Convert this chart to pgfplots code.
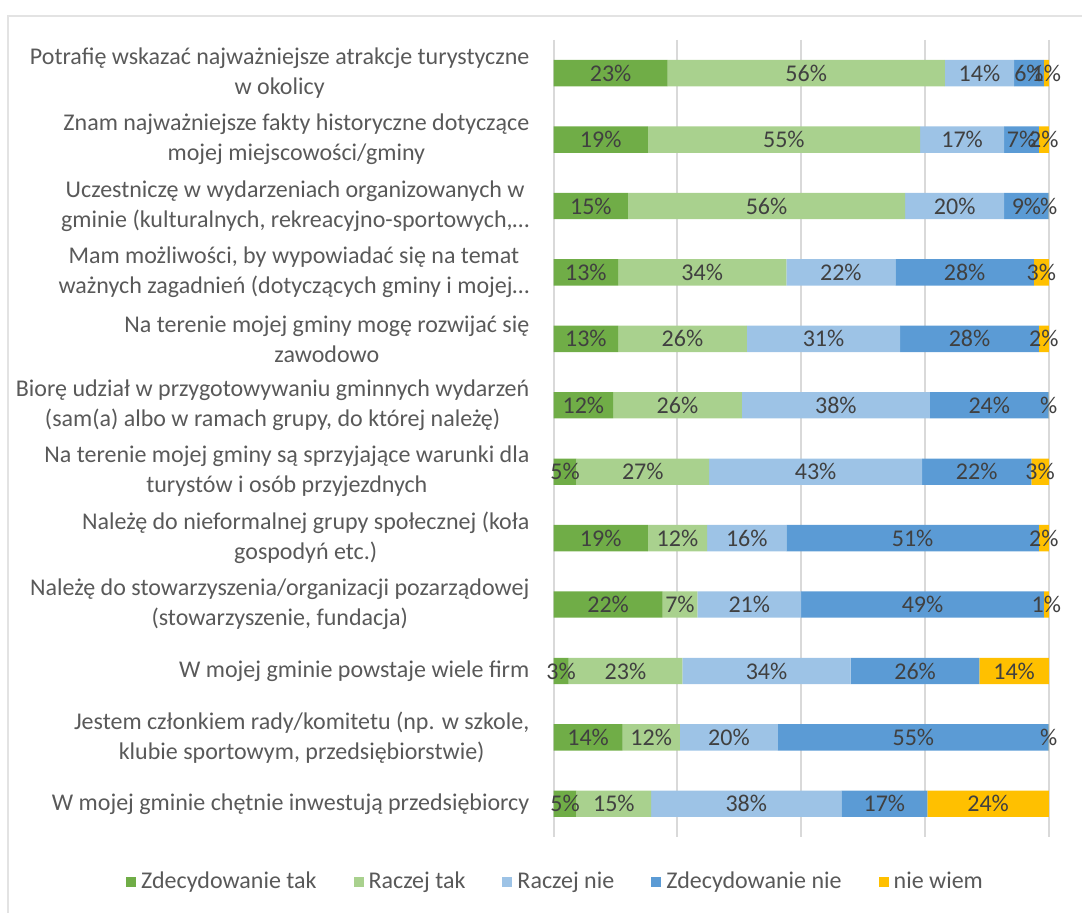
\documentclass[border=0pt]{standalone}
\usepackage{fontspec}
\setmainfont{Carlito}
\usepackage{pgfplots}
\pgfplotsset{compat=1.18}
\definecolor{cA}{HTML}{70AD47}
\definecolor{cB}{HTML}{A9D18E}
\definecolor{cC}{HTML}{9DC3E6}
\definecolor{cD}{HTML}{5B9BD5}
\definecolor{cE}{HTML}{FFC000}
\definecolor{gridc}{HTML}{D9D9D9}
\definecolor{framec}{HTML}{E3E3E3}
\definecolor{txt}{HTML}{595959}
\definecolor{lab}{HTML}{404040}
\begin{document}
\begin{tikzpicture}
\path[use as bounding box] (0,0) rectangle (541pt,456.5pt);
\draw[framec, line width=1pt] (4pt,-2pt) -- (4pt,448.5pt) -- (543pt,448.5pt);
\begin{axis}[
  at={(276.85pt,38pt)}, anchor=south west,
  scale only axis, width=247.65pt, height=398.5pt,
  xbar stacked, bar width=13.2pt, clip=false,
  xmin=0, xmax=100.05, ymin=-0.5, ymax=11.5, y dir=reverse,
  xtick={0,25,50,75,100}, xticklabels={},
  xmajorgrids, grid style={draw=gridc, line width=1pt},
  axis line style={draw=none}, major tick style={draw=none},
  ytick={0,...,11},
  yticklabels={
    {Potrafię wskazać najważniejsze atrakcje turystyczne\\w okolicy},
    {Znam najważniejsze fakty historyczne dotyczące\\mojej miejscowości/gminy},
    {Uczestniczę w wydarzeniach organizowanych w\\gminie (kulturalnych, rekreacyjno-sportowych,…},
    {Mam możliwości, by wypowiadać się na temat\\ważnych zagadnień (dotyczących gminy i mojej…},
    {Na terenie mojej gminy mogę rozwijać się\\zawodowo},
    {Biorę udział w przygotowywaniu gminnych wydarzeń\\(sam(a) albo w ramach grupy, do której należę)},
    {Na terenie mojej gminy są sprzyjające warunki dla\\turystów i osób przyjezdnych},
    {Należę do nieformalnej grupy społecznej (koła\\gospodyń etc.)},
    {Należę do stowarzyszenia/organizacji pozarządowej\\(stowarzyszenie, fundacja)},
    {W mojej gminie powstaje wiele firm},
    {Jestem członkiem rady/komitetu (np. w szkole,\\klubie sportowym, przedsiębiorstwie)},
    {W mojej gminie chętnie inwestują przedsiębiorcy}
  },
  yticklabel style={align=center, anchor=east, inner sep=0pt, xshift=-12pt,
    font=\fontsize{12}{15}\selectfont, text=txt},
  nodes near coords, point meta=explicit symbolic,
  every node near coord/.append style={anchor=center, inner sep=0pt,
    font=\fontsize{12}{15}\selectfont, text=lab},
  legend style={at={(0.0067,-0.0565)}, anchor=center, draw=none,
    legend columns=-1, font=\fontsize{12}{15}\selectfont, text=txt,
    /tikz/every even column/.append style={column sep=16pt},
    nodes={inner sep=2.5pt}},
  legend image code/.code={\fill[#1] (0pt,-2.5pt) rectangle (5pt,2.5pt);},
]
\addplot[fill=cA, draw=none] coordinates {
 (23,0) [23\%] (19,1) [19\%] (15,2) [15\%] (13,3) [13\%] (13,4) [13\%] (12,5) [12\%]
 (4.6,6) [5\%] (19,7) [19\%] (22,8) [22\%] (3,9) [3\%] (13.9,10) [14\%] (4.6,11) [5\%]};
\addplot[fill=cB, draw=none] coordinates {
 (56,0) [56\%] (55,1) [55\%] (56,2) [56\%] (34,3) [34\%] (26,4) [26\%] (26,5) [26\%]
 (26.8,6) [27\%] (12,7) [12\%] (7,8) [7\%] (23,9) [23\%] (11.6,10) [12\%] (15.1,11) [15\%]};
\addplot[fill=cC, draw=none] coordinates {
 (14,0) [14\%] (17,1) [17\%] (20,2) [20\%] (22,3) [22\%] (31,4) [31\%] (38,5) [38\%]
 (43,6) [43\%] (16,7) [16\%] (21,8) [21\%] (34,9) [34\%] (19.8,10) [20\%] (38.4,11) [38\%]};
\addplot[fill=cD, draw=none] coordinates {
 (6,0) [6\%] (7,1) [7\%] (8.99,2) [9\%] (28,3) [28\%] (28,4) [28\%] (23.99,5) [24\%]
 (22.1,6) [22\%] (51,7) [51\%] (49,8) [49\%] (26,9) [26\%] (54.69,10) [55\%] (17.4,11) [17\%]};
\addplot[fill=cE, draw=none] coordinates {
 (1,0) [1\%] (2,1) [2\%] (0.01,2) [{}\%] (3,3) [3\%] (2,4) [2\%] (0.01,5) [{}\%]
 (3.5,6) [3\%] (2,7) [2\%] (1,8) [1\%] (14,9) [14\%] (0.01,10) [{}\%] (24.5,11) [24\%]};
\legend{Zdecydowanie tak, Raczej tak, Raczej nie, Zdecydowanie nie, nie wiem}
\end{axis}
\end{tikzpicture}
\end{document}
